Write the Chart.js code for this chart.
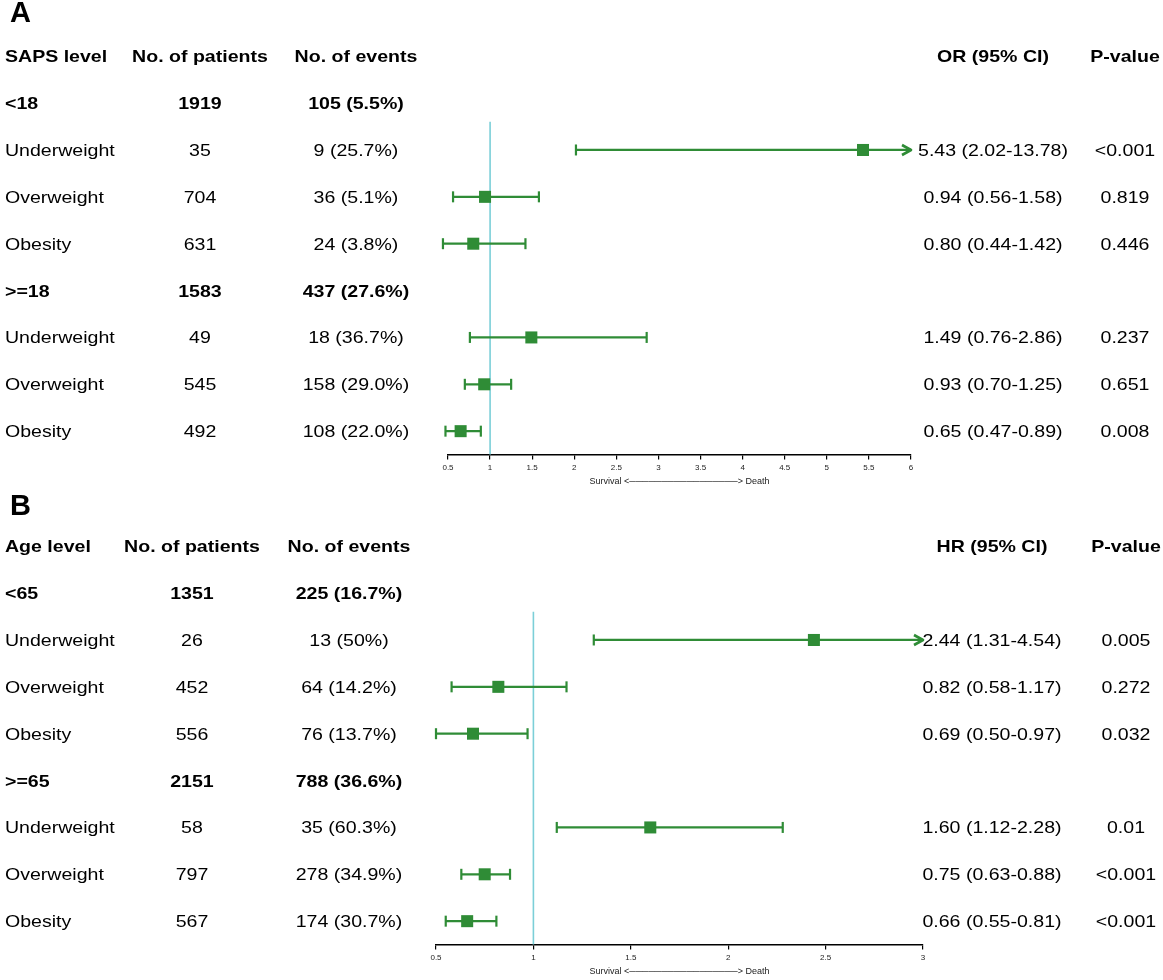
<!DOCTYPE html>
<html>
<head>
<meta charset="utf-8">
<script src="https://cdn.jsdelivr.net/npm/chart.js@4.4.1/dist/chart.umd.min.js"></script>
<style>
  body { margin: 0; background: #fff; font-family: "Liberation Sans", Arial, sans-serif; color: #000; overflow: hidden; }
  .panel { position: relative; width: 1163px; height: 490px; }
  .panel canvas { position: absolute; left: 0; top: 0; }
  .t { position: absolute; white-space: nowrap; font-size: 17px; line-height: 1; }
  .l { transform-origin: left center; transform: translateY(-50%) scaleX(1.15); }
  .c { transform: translate(-50%, -50%) scaleX(1.15); }
  .b { font-weight: bold; }
  .tag { position: absolute; left: 10px; font-size: 29px; font-weight: bold; line-height: 1; }
</style>
</head>
<body>
<div class="panel" id="panelA">
  <canvas id="chartA" width="1163" height="490"></canvas>
  <div class="tag" style="top:-2px">A</div>
</div>
<div class="panel" id="panelB">
  <canvas id="chartB" width="1163" height="490"></canvas>
  <div class="tag" style="top:1px">B</div>
</div>
<script>
// panel A - SAPS level
const headersA = ['SAPS level', 'No. of patients', 'No. of events', 'OR (95% CI)', 'P-value'];
const rowsA = ['<18', 'Underweight', 'Overweight', 'Obesity', '>=18', 'Underweight', 'Overweight', 'Obesity'];
const patientsA = ['1919', '35', '704', '631', '1583', '49', '545', '492'];
const eventsA = ['105 (5.5%)', '9 (25.7%)', '36 (5.1%)', '24 (3.8%)', '437 (27.6%)', '18 (36.7%)', '158 (29.0%)', '108 (22.0%)'];
const estA = [null, 5.43, 0.94, 0.80, null, 1.49, 0.93, 0.65];
const lowA = [null, 2.02, 0.56, 0.44, null, 0.76, 0.70, 0.47];
const highA = [null, 13.78, 1.58, 1.42, null, 2.86, 1.25, 0.89];
const pvalA = ['', '<0.001', '0.819', '0.446', '', '0.237', '0.651', '0.008'];
const ticksA = [0.5, 1, 1.5, 2, 2.5, 3, 3.5, 4, 4.5, 5, 5.5, 6];

// panel B - Age level
const headersB = ['Age level', 'No. of patients', 'No. of events', 'HR (95% CI)', 'P-value'];
const rowsB = ['<65', 'Underweight', 'Overweight', 'Obesity', '>=65', 'Underweight', 'Overweight', 'Obesity'];
const patientsB = ['1351', '26', '452', '556', '2151', '58', '797', '567'];
const eventsB = ['225 (16.7%)', '13 (50%)', '64 (14.2%)', '76 (13.7%)', '788 (36.6%)', '35 (60.3%)', '278 (34.9%)', '174 (30.7%)'];
const estB = [null, 2.44, 0.82, 0.69, null, 1.60, 0.75, 0.66];
const lowB = [null, 1.31, 0.58, 0.50, null, 1.12, 0.63, 0.55];
const highB = [null, 4.54, 1.17, 0.97, null, 2.28, 0.88, 0.81];
const pvalB = ['', '0.005', '0.272', '0.032', '', '0.01', '<0.001', '<0.001'];
const ticksB = [0.5, 1, 1.5, 2, 2.5, 3];

const groupRows = [0, 4];
const GREEN = '#2f8c36';
const CYAN = '#7ccfd8';
const axisTitle = 'Survival <' + '\u2500'.repeat(17) + '> Death';

// open arrow head used where the upper CI runs past the axis
const arrowImg = document.createElement('canvas');
arrowImg.width = 26; arrowImg.height = 14;
(function () {
  const g = arrowImg.getContext('2d');
  g.strokeStyle = GREEN; g.lineWidth = 2.6; g.lineJoin = 'round';
  g.beginPath(); g.moveTo(4, 2); g.lineTo(13, 7); g.lineTo(4, 12); g.stroke();
})();

function makePanel(canvasId, panelId, d) {
  const xmax = d.ticks[d.ticks.length - 1];
  const datasets = [];

  // squares
  datasets.push({
    type: 'scatter',
    data: d.est.map((v, i) => v == null ? null : { x: v, y: i }).filter(p => p),
    pointStyle: 'rect', pointRadius: 8.5, backgroundColor: GREEN, borderWidth: 0, clip: false
  });
  // caps
  const caps = [];
  d.est.forEach((v, i) => {
    if (v == null) return;
    caps.push({ x: d.low[i], y: i });
    if (d.high[i] <= xmax) caps.push({ x: d.high[i], y: i });
  });
  datasets.push({
    type: 'scatter', data: caps, pointStyle: 'line', rotation: 90, pointRadius: 5.5,
    borderColor: GREEN, borderWidth: 2.2, clip: false
  });
  // arrows
  datasets.push({
    type: 'scatter',
    data: d.est.map((v, i) => (v != null && d.high[i] > xmax) ? { x: xmax, y: i } : null).filter(p => p),
    pointStyle: arrowImg, pointRadius: 7, clip: false
  });
  // CI lines
  d.est.forEach((v, i) => {
    if (v == null) return;
    datasets.push({
      type: 'line',
      data: [{ x: d.low[i], y: i }, { x: Math.min(d.high[i], xmax), y: i }],
      borderColor: GREEN, borderWidth: 2.2, pointRadius: 0, clip: false
    });
  });
  // reference line at 1
  datasets.push({
    type: 'line', data: [{ x: 1, y: 0.4 }, { x: 1, y: 7.5 }],
    borderColor: CYAN, borderWidth: 1.6, pointRadius: 0, clip: false
  });

  const chart = new Chart(document.getElementById(canvasId), {
    type: 'scatter',
    data: { datasets },
    options: {
      responsive: false,
      animation: false,
      events: [],
      layout: { autoPadding: false, padding: { left: d.left, right: 1163 - d.right, top: 0, bottom: 3 } },
      plugins: { legend: { display: false }, tooltip: { enabled: false } },
      scales: {
        x: {
          type: 'linear', min: d.ticks[0], max: xmax,
          afterBuildTicks: axis => { axis.ticks = d.ticks.map(v => ({ value: v })); },
          grid: { drawOnChartArea: false, drawTicks: true, tickLength: 5, color: '#000', lineWidth: 1.2 },
          border: { display: true, color: '#000', width: 1.6 },
          ticks: {
            font: { size: 8, family: 'Liberation Sans' }, color: '#222', padding: 3, maxRotation: 0, autoSkip: false,
            callback: v => String(v)
          },
          title: { display: true, text: axisTitle, color: '#222', font: { size: 9, family: 'Liberation Sans' }, padding: { top: 1, bottom: 0 } }
        },
        y: { type: 'linear', reverse: true, min: -2.2, max: 7.5, display: false }
      }
    }
  });

  // table text placed on the chart's own row positions
  const panel = document.getElementById(panelId);
  const ys = chart.scales.y;
  function put(text, x, row, align, bold) {
    const el = document.createElement('div');
    el.className = 't ' + align + (bold ? ' b' : '');
    el.textContent = text;
    el.style.left = x + 'px';
    el.style.top = ys.getPixelForValue(row) + 'px';
    panel.appendChild(el);
  }
  d.headers.forEach((h, k) => put(h, d.cols[k], -1, k === 0 ? 'l' : 'c', true));
  d.rows.forEach((r, i) => {
    const bold = groupRows.includes(i);
    put(r, d.cols[0], i, 'l', bold);
    put(d.patients[i], d.cols[1], i, 'c', bold);
    put(d.events[i], d.cols[2], i, 'c', bold);
    if (d.est[i] != null) {
      put(d.est[i].toFixed(2) + ' (' + d.low[i].toFixed(2) + '-' + d.high[i].toFixed(2) + ')', d.cols[3], i, 'c', false);
      put(d.pval[i], d.cols[4], i, 'c', false);
    }
  });
  return chart;
}

makePanel('chartA', 'panelA', {
  headers: headersA, rows: rowsA, patients: patientsA, events: eventsA,
  est: estA, low: lowA, high: highA, pval: pvalA, ticks: ticksA,
  left: 448, right: 911, cols: [5, 200, 356, 993, 1125]
});
makePanel('chartB', 'panelB', {
  headers: headersB, rows: rowsB, patients: patientsB, events: eventsB,
  est: estB, low: lowB, high: highB, pval: pvalB, ticks: ticksB,
  left: 436, right: 923, cols: [5, 192, 349, 992, 1126]
});
</script>
</body>
</html>
